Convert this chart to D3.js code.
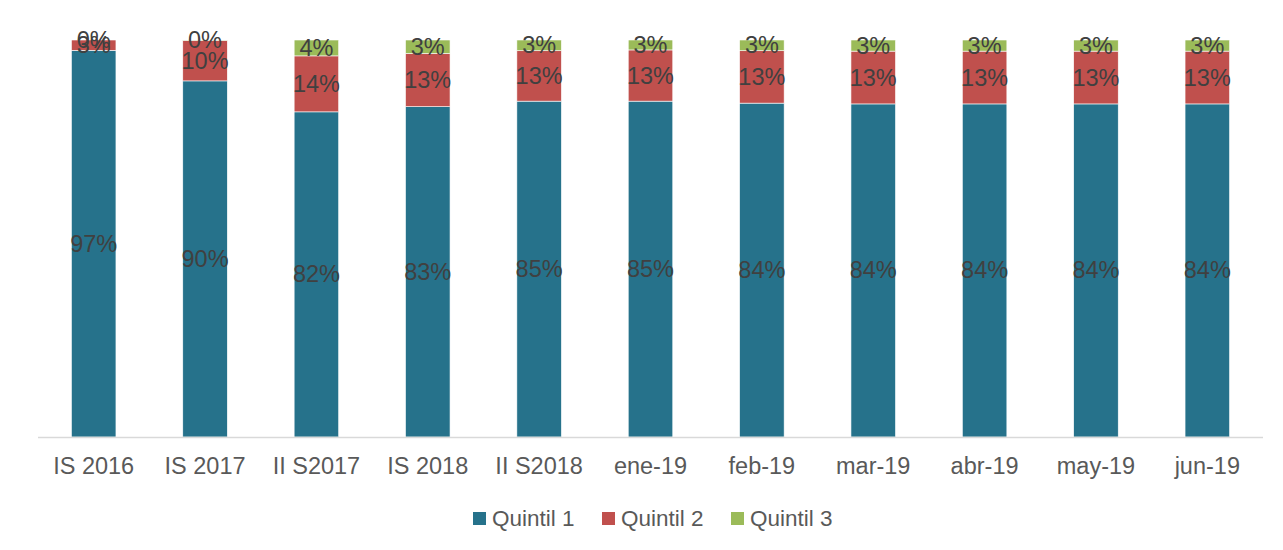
<!DOCTYPE html>
<html>
<head>
<meta charset="utf-8">
<script src="https://cdn.jsdelivr.net/npm/d3@7"></script>
<style>
body { margin: 0; background: #fff; }
svg text { font-family: "Liberation Sans", Arial, sans-serif; }
</style>
</head>
<body>
<svg id="chart"></svg>
<script>
var categories = ["IS 2016", "IS 2017", "II S2017", "IS 2018", "II S2018", "ene-19", "feb-19", "mar-19", "abr-19", "may-19", "jun-19"];
var quintil1 = [97.4, 89.7, 81.9, 83.2, 84.6, 84.6, 84.1, 83.9, 83.9, 83.9, 83.9];
var quintil2 = [2.6, 10.2, 14.1, 13.4, 12.7, 12.9, 13.2, 13.3, 13.3, 13.3, 13.3];
var quintil3 = [0.0, 0.1, 4.0, 3.4, 2.7, 2.5, 2.7, 2.8, 2.8, 2.8, 2.8];
var seriesNames = ["Quintil 1", "Quintil 2", "Quintil 3"];
var colors = ["#26728b", "#c0504d", "#9bbb59"];

var w = 1283, h = 550;
var svg = d3.select("#chart").attr("width", w).attr("height", h);

var data = categories.map(function(c, i){
  return {cat: c, "Quintil 1": quintil1[i], "Quintil 2": quintil2[i], "Quintil 3": quintil3[i]};
});
var stacked = d3.stack().keys(seriesNames)
  .offset(d3.stackOffsetExpand)(data);

var x = d3.scaleBand().domain(categories).range([38, 1263]).paddingInner(0.6).paddingOuter(0.3);
var y = d3.scaleLinear().domain([0, 1]).range([437, 40]);
var color = d3.scaleOrdinal().domain(seriesNames).range(colors);

var layers = svg.selectAll("g.layer")
  .data(stacked)
  .enter()
  .append("g")
    .attr("class", "layer")
    .attr("fill", function(d){ return color(d.key); });

layers.selectAll("rect")
  .data(function(d){ return d; })
  .enter()
  .append("rect")
    .attr("x", function(d){ return x(d.data.cat); })
    .attr("y", function(d){ return y(d[1]); })
    .attr("width", x.bandwidth())
    .attr("height", function(d){ return y(d[0]) - y(d[1]); })
    .attr("stroke", "#fff")
    .attr("stroke-width", 0.6);

// axis line
svg.append("line")
  .attr("x1", 38).attr("x2", 1263)
  .attr("y1", 437.5).attr("y2", 437.5)
  .attr("stroke", "#d9d9d9").attr("stroke-width", 1.5);

// value labels
layers.each(function(s){
  var key = s.key;
  d3.select(this).selectAll("text")
    .data(s)
    .enter()
    .append("text")
      .attr("x", function(d){ return x(d.data.cat) + x.bandwidth()/2; })
      .attr("y", function(d){ return (y(d[0]) + y(d[1]))/2; })
      .attr("text-anchor", "middle")
      .attr("dominant-baseline", "central")
      .attr("fill", "#404040")
      .attr("font-size", "23.5px")
      .text(function(d){ return Math.round(d.data[key]) + "%"; });
});

// category labels
svg.selectAll("text.cat")
  .data(categories)
  .enter()
  .append("text")
    .attr("class", "cat")
    .attr("x", function(d){ return x(d) + x.bandwidth()/2; })
    .attr("y", 474)
    .attr("text-anchor", "middle")
    .attr("fill", "#595959")
    .attr("font-size", "23.5px")
    .text(function(d){ return d; });

// legend
var legendX = [473, 602, 731];
var legend = svg.selectAll("g.legend")
  .data(seriesNames)
  .enter()
  .append("g")
    .attr("class", "legend")
    .attr("transform", function(d, i){ return "translate(" + legendX[i] + ",512)"; });
legend.append("rect")
  .attr("width", 13).attr("height", 13)
  .attr("fill", function(d){ return color(d); });
legend.append("text")
  .attr("x", 19).attr("y", 14)
  .attr("fill", "#595959")
  .attr("font-size", "22.5px")
  .text(function(d){ return d; });
</script>
</body>
</html>
